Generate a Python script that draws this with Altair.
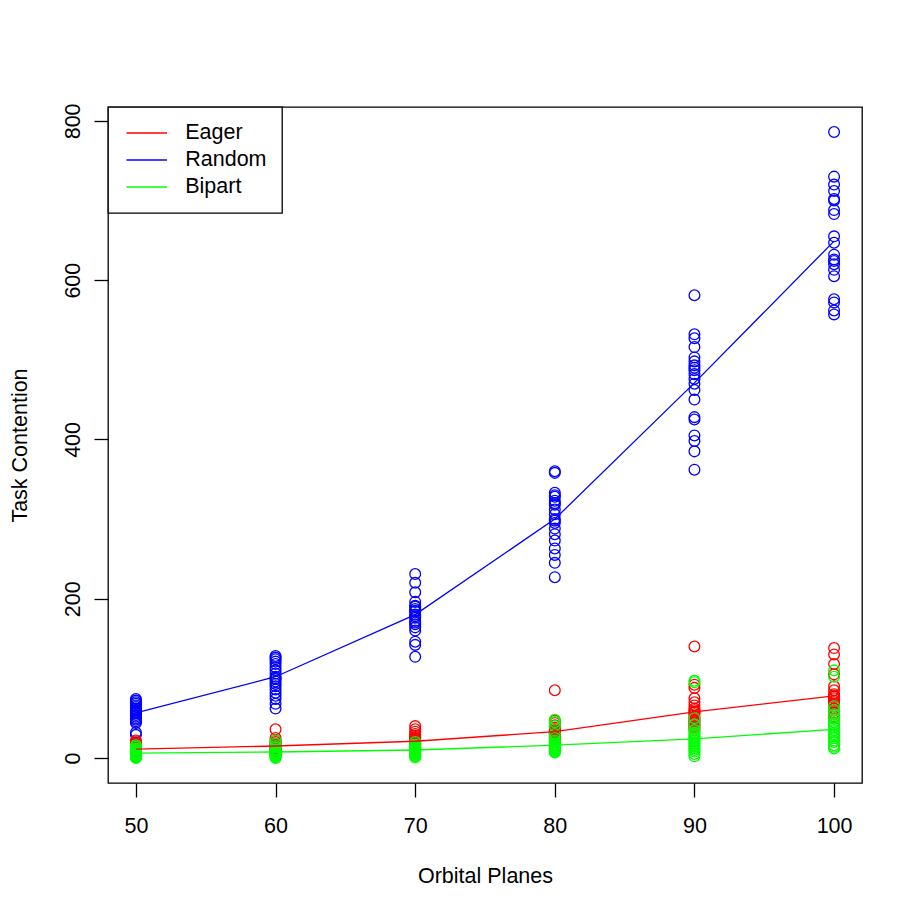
import altair as alt
import pandas as pd

x_levels = [50, 60, 70, 80, 90, 100]
algorithms = ["Eager", "Random", "Bipart"]
colors = ["#FF0000", "#0000FF", "#00FF00"]

random_pts = {
    50: [74, 72, 70, 68, 66, 64, 62, 60, 58, 56, 54, 52, 50, 48, 46, 44, 32, 29, 60, 57],
    60: [128, 126, 124, 121, 118, 114, 110, 106, 102, 99, 96, 93, 90, 86, 82, 78, 74, 68, 62, 100],
    70: [231, 220, 208, 196, 191, 187, 184, 180, 176, 172, 168, 164, 160, 146, 142, 127, 178, 185, 170, 190],
    80: [360, 358, 333, 328, 323, 318, 312, 306, 300, 295, 288, 281, 273, 263, 255, 245, 227, 320, 330, 298],
    90: [581, 532, 527, 516, 503, 498, 493, 487, 482, 476, 470, 462, 450, 428, 425, 405, 398, 385, 362, 490],
    100: [786, 730, 720, 712, 702, 688, 683, 655, 647, 632, 626, 620, 613, 605, 576, 572, 562, 557, 624, 700],
}
eager_pts = {
    50: [22, 20, 18, 16, 15, 14, 13, 12, 11, 10, 10, 9, 8, 8, 7, 6, 5, 12, 14, 9],
    60: [36, 25, 22, 20, 18, 17, 16, 15, 14, 13, 12, 12, 11, 10, 9, 8, 7, 14, 15, 13],
    70: [40, 36, 33, 30, 28, 26, 24, 22, 21, 20, 19, 18, 17, 16, 15, 14, 13, 22, 23, 25],
    80: [85, 47, 44, 41, 38, 36, 34, 32, 31, 30, 29, 28, 27, 26, 25, 24, 22, 20, 33, 35],
    90: [140, 92, 88, 75, 70, 66, 62, 58, 55, 52, 50, 48, 46, 44, 42, 40, 38, 35, 57, 60],
    100: [138, 130, 118, 105, 90, 85, 80, 77, 75, 72, 70, 68, 65, 62, 60, 57, 55, 52, 50, 78],
}
bipart_pts = {
    50: [16, 14, 12, 11, 10, 9, 8, 7, 6, 6, 5, 5, 4, 4, 3, 3, 2, 1, 1, 0],
    60: [22, 18, 15, 13, 11, 10, 9, 8, 7, 6, 6, 5, 5, 4, 4, 3, 3, 2, 1, 0],
    70: [20, 17, 15, 14, 13, 12, 11, 10, 10, 9, 9, 8, 8, 7, 6, 5, 4, 3, 2, 1],
    80: [48, 45, 40, 30, 25, 22, 20, 18, 17, 16, 15, 14, 13, 12, 11, 10, 9, 8, 8, 7],
    90: [97, 95, 50, 42, 35, 32, 30, 28, 26, 24, 22, 20, 18, 16, 14, 12, 10, 8, 5, 2],
    100: [110, 102, 65, 60, 55, 50, 45, 42, 40, 38, 35, 32, 30, 28, 25, 22, 20, 16, 14, 12],
}

eager_mean = [11, 15, 21, 33, 58, 78]
random_mean = [56.5, 102, 180, 300, 471, 649]
bipart_mean = [6, 7.5, 10, 16, 24, 36]

x_ticks = [50, 60, 70, 80, 90, 100]
y_ticks = [0, 200, 400, 600, 800]

# points: drawn Random first, then Eager, then Bipart
rows = []
order = 0
for name, pts in [("Random", random_pts), ("Eager", eager_pts), ("Bipart", bipart_pts)]:
    for xv in x_levels:
        for v in pts[xv]:
            rows.append({"planes": xv, "contention": v, "alg": name, "ord": order})
            order += 1
points_df = pd.DataFrame(rows)

mrows = []
for name, means in [("Eager", eager_mean), ("Random", random_mean), ("Bipart", bipart_mean)]:
    for xv, m in zip(x_levels, means):
        mrows.append({"planes": xv, "contention": m, "alg": name})
means_df = pd.DataFrame(mrows)

FONT = "Liberation Sans"
FS = 21.5

x_enc = alt.X("planes:Q",
              scale=alt.Scale(domain=[48, 102], nice=False, zero=False),
              axis=alt.Axis(values=x_ticks, title="Orbital Planes",
                            labelBaseline="alphabetic", labelPadding=35,
                            titleX=377, titleY=99, titleBaseline="alphabetic",
                            titleAlign="center"))
y_enc = alt.Y("contention:Q",
              scale=alt.Scale(domain=[-31.44, 817.44], nice=False, zero=False),
              axis=alt.Axis(values=y_ticks, title="Task Contention",
                            labelAngle=270, labelAlign="center",
                            labelBaseline="alphabetic", labelPadding=15,
                            titleX=-82, titleY=338, titleAngle=270,
                            titleBaseline="alphabetic", titleAlign="center"))
color_scale = alt.Scale(domain=algorithms, range=colors)

points = alt.Chart(points_df).mark_point(
    shape="circle", filled=False, size=115, strokeWidth=1.3, opacity=1
).encode(
    x=x_enc, y=y_enc,
    color=alt.Color("alg:N", scale=color_scale, title=None),
    order=alt.Order("ord:Q"),
)

lines = alt.Chart(means_df).mark_line(strokeWidth=1.3).encode(
    x="planes:Q", y="contention:Q",
    color=alt.Color("alg:N", scale=color_scale, title=None),
    detail="alg:N",
)

chart = alt.layer(points, lines).properties(
    width=754, height=676,
    autosize=alt.AutoSizeParams(type="none"),
    padding={"left": 100, "top": 99, "right": 40, "bottom": 115},
).configure_view(
    stroke="black", strokeWidth=1.3
).configure_axis(
    grid=False, domain=False,
    tickColor="black", tickSize=14, tickWidth=1.3,
    labelFont=FONT, labelFontSize=FS, labelColor="black",
    titleFont=FONT, titleFontSize=FS, titleColor="black", titleFontWeight="normal",
    labelFlush=False, labelOverlap=False,
).configure_legend(
    orient="none", legendX=0, legendY=0,
    strokeColor="black", strokeWidth=1.3, fillColor="white",
    padding=15, symbolType="M-2,0H2", symbolSize=410, symbolStrokeWidth=1.3,
    symbolOffset=12.75,
    labelFont=FONT, labelFontSize=FS, labelColor="black", labelOffset=27.5,
    rowPadding=5, cornerRadius=0,
)

chart.save("out.html", embed_options={"renderer": "svg", "actions": False})
